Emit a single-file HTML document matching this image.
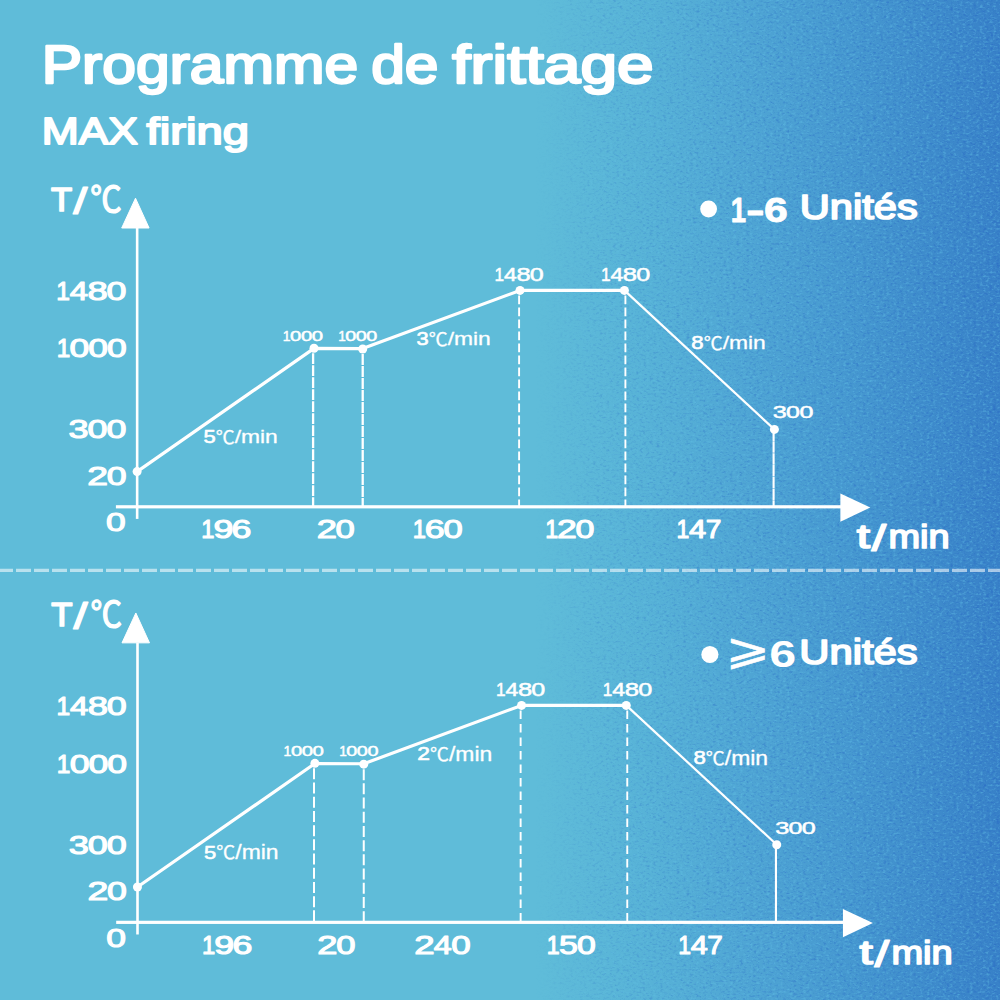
<!DOCTYPE html>
<html lang="fr">
<head>
<meta charset="utf-8">
<title>Programme de frittage – MAX firing</title>
<style>
html,body{margin:0;padding:0;background:#5fbcd9;}
body{width:1000px;height:1000px;overflow:hidden;}
svg{display:block;font-kerning:none;}
text{fill:#fff;font-kerning:none;}
</style>
</head>
<body>
<svg width="1000" height="1000" viewBox="0 0 1000 1000">
<defs>
<linearGradient id="bg" x1="0" y1="0" x2="1" y2="0">
<stop offset="0" stop-color="#5fbcd9"/>
<stop offset="0.545" stop-color="#5fbcd9"/>
<stop offset="0.65" stop-color="#57b2d7"/>
<stop offset="0.75" stop-color="#4fa5d4"/>
<stop offset="0.85" stop-color="#4698d0"/>
<stop offset="1" stop-color="#3881c8"/>
</linearGradient>
<linearGradient id="nm" x1="0" y1="0" x2="1" y2="0">
<stop offset="0.535" stop-color="#fff" stop-opacity="0"/>
<stop offset="0.60" stop-color="#fff" stop-opacity="0.55"/>
<stop offset="0.75" stop-color="#fff" stop-opacity="0.85"/>
<stop offset="1" stop-color="#fff" stop-opacity="1"/>
</linearGradient>
<mask id="nmask" maskUnits="userSpaceOnUse" x="0" y="0" width="1000" height="1000"><rect width="1000" height="1000" fill="url(#nm)"/></mask>
<filter id="grain" x="0" y="0" width="100%" height="100%" color-interpolation-filters="sRGB">
<feTurbulence type="fractalNoise" baseFrequency="0.30 0.46" numOctaves="2" seed="7" result="t"/>
<feColorMatrix in="t" type="matrix" values="0 0 0 0 0.13  0 0 0 0 0.36  0 0 0 0 0.76  3.0 0 0 0 -1.5" result="dark"/>
<feColorMatrix in="t" type="matrix" values="0 0 0 0 0.42  0 0 0 0 0.80  0 0 0 0 0.93  0 -3.0 0 0 1.5" result="light"/>
<feMerge><feMergeNode in="dark"/><feMergeNode in="light"/></feMerge>
</filter>
</defs>
<rect width="1000" height="1000" fill="url(#bg)"/>
<g mask="url(#nmask)"><rect x="520" y="0" width="480" height="1000" filter="url(#grain)" opacity="0.38"/></g>
<path d="M-2 570.4 H1002" stroke="#fff" stroke-opacity="0.56" stroke-width="3.2" stroke-dasharray="15 3" fill="none"/>
<g fill="#fff">
<rect x="135.85" y="228.00" width="2.6" height="290.90"/>
<path d="M135.50 198.20 L121.70 228.00 L149.10 228.00 Z" stroke="#fff" stroke-width="1" stroke-linejoin="round"/>
<rect x="115.90" y="505.20" width="726.10" height="3.2"/>
<path d="M840.40 493.60 L870.30 507.50 L840.40 521.70 Z"/>
<path d="M137.10 471.60 L314.00 348.40 L362.70 348.60 L520.00 290.40 L624.40 290.40" fill="none" stroke="#fff" stroke-width="3.2" stroke-linejoin="round"/>
<path d="M624.40 290.40 L774.40 429.40" fill="none" stroke="#fff" stroke-width="2.2"/>
<path d="M313.10 353.20 V506.80" fill="none" stroke="#fff" stroke-width="2.3" stroke-dasharray="10.9 1.1"/>
<path d="M362.70 354.00 V506.80" fill="none" stroke="#fff" stroke-width="2.3" stroke-dasharray="10.9 1.1"/>
<path d="M519.10 295.40 V506.80" fill="none" stroke="#fff" stroke-width="1.9" stroke-dasharray="8.8 3.2"/>
<path d="M625.40 295.40 V506.80" fill="none" stroke="#fff" stroke-width="1.9" stroke-dasharray="8.8 3.2"/>
<path d="M773.60 429.40 V506.80" fill="none" stroke="#fff" stroke-width="2.1" stroke-dasharray="11.5 0.4"/>
<circle cx="137.10" cy="471.60" r="4.5"/>
<circle cx="314.00" cy="348.20" r="4.5"/>
<circle cx="362.70" cy="349.00" r="4.5"/>
<circle cx="520.00" cy="290.40" r="4.5"/>
<circle cx="624.40" cy="290.40" r="4.5"/>
<circle cx="774.40" cy="429.40" r="4.5"/>
<rect x="136.20" y="642.85" width="2.6" height="291.63"/>
<path d="M135.85 612.97 L122.00 642.85 L149.49 642.85 Z" stroke="#fff" stroke-width="1" stroke-linejoin="round"/>
<rect x="116.18" y="920.74" width="728.35" height="3.2"/>
<path d="M842.93 909.11 L872.92 923.04 L842.93 937.28 Z"/>
<path d="M137.45 887.05 L314.90 763.55 L363.75 763.75 L521.54 705.40 L626.26 705.40" fill="none" stroke="#fff" stroke-width="3.2" stroke-linejoin="round"/>
<path d="M626.26 705.40 L776.73 844.75" fill="none" stroke="#fff" stroke-width="2.2"/>
<path d="M314.00 768.35 V922.34" fill="none" stroke="#fff" stroke-width="2.0" stroke-dasharray="11 3.2"/>
<path d="M363.75 769.15 V922.34" fill="none" stroke="#fff" stroke-width="2.0" stroke-dasharray="11 3.2"/>
<path d="M520.64 710.40 V922.34" fill="none" stroke="#fff" stroke-width="1.9" stroke-dasharray="8.5 5"/>
<path d="M627.26 710.40 V922.34" fill="none" stroke="#fff" stroke-width="1.9" stroke-dasharray="8.5 5"/>
<path d="M775.93 844.75 V922.34" fill="none" stroke="#fff" stroke-width="2.1"/>
<circle cx="137.45" cy="887.05" r="4.5"/>
<circle cx="314.90" cy="763.35" r="4.5"/>
<circle cx="363.75" cy="764.15" r="4.5"/>
<circle cx="521.54" cy="705.40" r="4.5"/>
<circle cx="626.26" cy="705.40" r="4.5"/>
<circle cx="776.73" cy="844.75" r="4.5"/>
<circle cx="708.6" cy="209" r="8.4"/>
<circle cx="709.9" cy="654.5" r="8.6"/>
</g>
<g>
<text x="41.73" y="82.70" font-size="53.05" font-weight="normal" style="font-family:'Liberation Sans', sans-serif" textLength="316.36" lengthAdjust="spacingAndGlyphs" stroke="#fff" stroke-width="2.4" stroke-linejoin="round">Programme</text>
<text x="371.16" y="82.70" font-size="53.05" font-weight="normal" style="font-family:'Liberation Sans', sans-serif" textLength="67.33" lengthAdjust="spacingAndGlyphs" stroke="#fff" stroke-width="2.4" stroke-linejoin="round">de</text>
<text x="452.27" y="82.70" font-size="53.05" font-weight="normal" style="font-family:'Liberation Sans', sans-serif" textLength="201.46" lengthAdjust="spacingAndGlyphs" stroke="#fff" stroke-width="2.4" stroke-linejoin="round">frittage</text>
<text x="41.71" y="143.71" font-size="37.21" font-weight="normal" style="font-family:'Liberation Sans', sans-serif" textLength="96.17" lengthAdjust="spacingAndGlyphs" stroke="#fff" stroke-width="1.9" stroke-linejoin="round">MAX</text>
<text x="146.58" y="143.71" font-size="37.21" font-weight="normal" style="font-family:'Liberation Sans', sans-serif" textLength="102.31" lengthAdjust="spacingAndGlyphs" stroke="#fff" stroke-width="1.9" stroke-linejoin="round">firing</text>
<text x="51.12" y="211.00" font-size="33.87" font-weight="normal" style="font-family:'Liberation Sans', sans-serif" textLength="21.12" lengthAdjust="spacingAndGlyphs" stroke="#fff" stroke-width="1.7" stroke-linejoin="round">T</text>
<text x="73.30" y="214.00" font-size="37.06" font-weight="normal" style="font-family:'Liberation Sans', sans-serif" textLength="14.10" lengthAdjust="spacingAndGlyphs" stroke="#fff" stroke-width="1.2" stroke-linejoin="round">/</text>
<text x="90.17" y="211.85" font-size="35.18" font-weight="normal" style="font-family:'Liberation Sans', 'Noto Sans CJK SC', sans-serif" textLength="31.39" lengthAdjust="spacingAndGlyphs" stroke="#fff" stroke-width="1.3" stroke-linejoin="round">℃</text>
<text y="300.45" font-size="26.13" font-weight="normal" style="font-family:'Liberation Sans', sans-serif" stroke="#fff" stroke-width="1.1" stroke-linejoin="round"><tspan x="56.28" textLength="13.65" lengthAdjust="spacingAndGlyphs">1</tspan><tspan x="69.85" textLength="18.27" lengthAdjust="spacingAndGlyphs">4</tspan><tspan x="87.46" textLength="20.23" lengthAdjust="spacingAndGlyphs">8</tspan><tspan x="106.59" textLength="19.86" lengthAdjust="spacingAndGlyphs">0</tspan></text>
<text y="357.45" font-size="26.13" font-weight="normal" style="font-family:'Liberation Sans', sans-serif" stroke="#fff" stroke-width="1.1" stroke-linejoin="round"><tspan x="56.69" textLength="13.55" lengthAdjust="spacingAndGlyphs">1</tspan><tspan x="69.53" textLength="19.70" lengthAdjust="spacingAndGlyphs">0</tspan><tspan x="88.33" textLength="19.70" lengthAdjust="spacingAndGlyphs">0</tspan><tspan x="107.13" textLength="19.70" lengthAdjust="spacingAndGlyphs">0</tspan></text>
<text y="437.85" font-size="26.13" font-weight="normal" style="font-family:'Liberation Sans', sans-serif" stroke="#fff" stroke-width="1.1" stroke-linejoin="round"><tspan x="68.58" textLength="20.07" lengthAdjust="spacingAndGlyphs">3</tspan><tspan x="87.55" textLength="19.91" lengthAdjust="spacingAndGlyphs">0</tspan><tspan x="106.54" textLength="19.91" lengthAdjust="spacingAndGlyphs">0</tspan></text>
<text y="484.85" font-size="26.13" font-weight="normal" style="font-family:'Liberation Sans', sans-serif" stroke="#fff" stroke-width="1.1" stroke-linejoin="round"><tspan x="87.27" textLength="20.77" lengthAdjust="spacingAndGlyphs">2</tspan><tspan x="106.65" textLength="19.79" lengthAdjust="spacingAndGlyphs">0</tspan></text>
<text y="531.05" font-size="26.13" font-weight="normal" style="font-family:'Liberation Sans', sans-serif" stroke="#fff" stroke-width="1.1" stroke-linejoin="round"><tspan x="106.07" textLength="19.66" lengthAdjust="spacingAndGlyphs">0</tspan></text>
<text y="538.45" font-size="26.13" font-weight="normal" style="font-family:'Liberation Sans', sans-serif" stroke="#fff" stroke-width="1.1" stroke-linejoin="round"><tspan x="201.24" textLength="13.21" lengthAdjust="spacingAndGlyphs">1</tspan><tspan x="213.43" textLength="19.88" lengthAdjust="spacingAndGlyphs">9</tspan><tspan x="231.62" textLength="19.90" lengthAdjust="spacingAndGlyphs">6</tspan></text>
<text y="538.45" font-size="26.13" font-weight="normal" style="font-family:'Liberation Sans', sans-serif" stroke="#fff" stroke-width="1.1" stroke-linejoin="round"><tspan x="316.72" textLength="20.19" lengthAdjust="spacingAndGlyphs">2</tspan><tspan x="335.56" textLength="19.24" lengthAdjust="spacingAndGlyphs">0</tspan></text>
<text y="538.45" font-size="26.13" font-weight="normal" style="font-family:'Liberation Sans', sans-serif" stroke="#fff" stroke-width="1.1" stroke-linejoin="round"><tspan x="412.74" textLength="13.21" lengthAdjust="spacingAndGlyphs">1</tspan><tspan x="424.79" textLength="19.90" lengthAdjust="spacingAndGlyphs">6</tspan><tspan x="443.59" textLength="19.21" lengthAdjust="spacingAndGlyphs">0</tspan></text>
<text y="538.45" font-size="26.13" font-weight="normal" style="font-family:'Liberation Sans', sans-serif" stroke="#fff" stroke-width="1.1" stroke-linejoin="round"><tspan x="545.28" textLength="12.95" lengthAdjust="spacingAndGlyphs">1</tspan><tspan x="557.09" textLength="19.77" lengthAdjust="spacingAndGlyphs">2</tspan><tspan x="575.53" textLength="18.84" lengthAdjust="spacingAndGlyphs">0</tspan></text>
<text y="538.45" font-size="26.13" font-weight="normal" style="font-family:'Liberation Sans', sans-serif" stroke="#fff" stroke-width="1.1" stroke-linejoin="round"><tspan x="676.40" textLength="12.81" lengthAdjust="spacingAndGlyphs">1</tspan><tspan x="689.13" textLength="17.15" lengthAdjust="spacingAndGlyphs">4</tspan><tspan x="705.69" textLength="15.67" lengthAdjust="spacingAndGlyphs">7</tspan></text>
<text x="856.68" y="547.80" font-size="32.99" font-weight="normal" style="font-family:'Liberation Sans', sans-serif" textLength="13.22" lengthAdjust="spacingAndGlyphs" stroke="#fff" stroke-width="1.6" stroke-linejoin="round">t</text>
<text x="871.50" y="551.00" font-size="36.95" font-weight="normal" style="font-family:'Liberation Sans', sans-serif" textLength="14.75" lengthAdjust="spacingAndGlyphs" stroke="#fff" stroke-width="1.2" stroke-linejoin="round">/</text>
<text x="888.43" y="547.80" font-size="32.99" font-weight="normal" style="font-family:'Liberation Sans', sans-serif" textLength="61.13" lengthAdjust="spacingAndGlyphs" stroke="#fff" stroke-width="1.6" stroke-linejoin="round">min</text>
<text y="340.95" font-size="14.83" font-weight="normal" style="font-family:'Liberation Sans', sans-serif" stroke="#fff" stroke-width="0.5" stroke-linejoin="round"><tspan x="282.79" textLength="7.75" lengthAdjust="spacingAndGlyphs">1</tspan><tspan x="290.14" textLength="11.28" lengthAdjust="spacingAndGlyphs">0</tspan><tspan x="300.90" textLength="11.28" lengthAdjust="spacingAndGlyphs">0</tspan><tspan x="311.66" textLength="11.28" lengthAdjust="spacingAndGlyphs">0</tspan></text>
<text y="340.95" font-size="14.83" font-weight="normal" style="font-family:'Liberation Sans', sans-serif" stroke="#fff" stroke-width="0.5" stroke-linejoin="round"><tspan x="338.22" textLength="7.55" lengthAdjust="spacingAndGlyphs">1</tspan><tspan x="345.37" textLength="10.99" lengthAdjust="spacingAndGlyphs">0</tspan><tspan x="355.85" textLength="10.99" lengthAdjust="spacingAndGlyphs">0</tspan><tspan x="366.34" textLength="10.99" lengthAdjust="spacingAndGlyphs">0</tspan></text>
<text y="280.75" font-size="18.22" font-weight="normal" style="font-family:'Liberation Sans', sans-serif" stroke="#fff" stroke-width="0.5" stroke-linejoin="round"><tspan x="494.54" textLength="9.57" lengthAdjust="spacingAndGlyphs">1</tspan><tspan x="504.06" textLength="12.81" lengthAdjust="spacingAndGlyphs">4</tspan><tspan x="516.40" textLength="14.18" lengthAdjust="spacingAndGlyphs">8</tspan><tspan x="529.81" textLength="13.92" lengthAdjust="spacingAndGlyphs">0</tspan></text>
<text y="280.75" font-size="18.22" font-weight="normal" style="font-family:'Liberation Sans', sans-serif" stroke="#fff" stroke-width="0.5" stroke-linejoin="round"><tspan x="600.93" textLength="9.61" lengthAdjust="spacingAndGlyphs">1</tspan><tspan x="610.49" textLength="12.86" lengthAdjust="spacingAndGlyphs">4</tspan><tspan x="622.88" textLength="14.24" lengthAdjust="spacingAndGlyphs">8</tspan><tspan x="636.35" textLength="13.98" lengthAdjust="spacingAndGlyphs">0</tspan></text>
<text y="418.35" font-size="17.09" font-weight="normal" style="font-family:'Liberation Sans', sans-serif" stroke="#fff" stroke-width="0.5" stroke-linejoin="round"><tspan x="772.89" textLength="14.03" lengthAdjust="spacingAndGlyphs">3</tspan><tspan x="786.14" textLength="13.91" lengthAdjust="spacingAndGlyphs">0</tspan><tspan x="799.42" textLength="13.91" lengthAdjust="spacingAndGlyphs">0</tspan></text>
<text y="443.20" font-size="18.50" font-weight="normal" style="font-family:'Liberation Sans', sans-serif" stroke="#fff" stroke-width="0.6" stroke-linejoin="round"><tspan x="203.42" textLength="12.20" lengthAdjust="spacingAndGlyphs">5</tspan></text>
<text x="215.76" y="443.55" font-size="18.18" font-weight="normal" style="font-family:'Liberation Sans', 'Noto Sans CJK SC', sans-serif" textLength="18.88" lengthAdjust="spacingAndGlyphs" stroke="#fff" stroke-width="0.3" stroke-linejoin="round">℃</text>
<text x="234.65" y="443.35" font-size="19.23" font-weight="normal" style="font-family:'Liberation Sans', sans-serif" textLength="43.18" lengthAdjust="spacingAndGlyphs" stroke="#fff" stroke-width="0.3" stroke-linejoin="round">/min</text>
<text y="345.30" font-size="18.50" font-weight="normal" style="font-family:'Liberation Sans', sans-serif" stroke="#fff" stroke-width="0.6" stroke-linejoin="round"><tspan x="416.46" textLength="12.20" lengthAdjust="spacingAndGlyphs">3</tspan></text>
<text x="428.76" y="345.65" font-size="18.18" font-weight="normal" style="font-family:'Liberation Sans', 'Noto Sans CJK SC', sans-serif" textLength="18.88" lengthAdjust="spacingAndGlyphs" stroke="#fff" stroke-width="0.3" stroke-linejoin="round">℃</text>
<text x="447.65" y="345.45" font-size="19.23" font-weight="normal" style="font-family:'Liberation Sans', sans-serif" textLength="43.18" lengthAdjust="spacingAndGlyphs" stroke="#fff" stroke-width="0.3" stroke-linejoin="round">/min</text>
<text y="349.20" font-size="18.50" font-weight="normal" style="font-family:'Liberation Sans', sans-serif" stroke="#fff" stroke-width="0.6" stroke-linejoin="round"><tspan x="691.34" textLength="12.33" lengthAdjust="spacingAndGlyphs">8</tspan></text>
<text x="703.76" y="349.55" font-size="18.18" font-weight="normal" style="font-family:'Liberation Sans', 'Noto Sans CJK SC', sans-serif" textLength="18.88" lengthAdjust="spacingAndGlyphs" stroke="#fff" stroke-width="0.3" stroke-linejoin="round">℃</text>
<text x="722.65" y="349.35" font-size="19.23" font-weight="normal" style="font-family:'Liberation Sans', sans-serif" textLength="43.18" lengthAdjust="spacingAndGlyphs" stroke="#fff" stroke-width="0.3" stroke-linejoin="round">/min</text>
<text x="51.20" y="625.80" font-size="33.97" font-weight="normal" style="font-family:'Liberation Sans', sans-serif" textLength="21.19" lengthAdjust="spacingAndGlyphs" stroke="#fff" stroke-width="1.7" stroke-linejoin="round">T</text>
<text x="73.45" y="628.81" font-size="37.18" font-weight="normal" style="font-family:'Liberation Sans', sans-serif" textLength="14.15" lengthAdjust="spacingAndGlyphs" stroke="#fff" stroke-width="1.2" stroke-linejoin="round">/</text>
<text x="90.38" y="626.66" font-size="35.29" font-weight="normal" style="font-family:'Liberation Sans', 'Noto Sans CJK SC', sans-serif" textLength="31.50" lengthAdjust="spacingAndGlyphs" stroke="#fff" stroke-width="1.3" stroke-linejoin="round">℃</text>
<text y="715.48" font-size="26.21" font-weight="normal" style="font-family:'Liberation Sans', sans-serif" stroke="#fff" stroke-width="1.1" stroke-linejoin="round"><tspan x="56.38" textLength="13.69" lengthAdjust="spacingAndGlyphs">1</tspan><tspan x="70.00" textLength="18.33" lengthAdjust="spacingAndGlyphs">4</tspan><tspan x="87.66" textLength="20.29" lengthAdjust="spacingAndGlyphs">8</tspan><tspan x="106.85" textLength="19.92" lengthAdjust="spacingAndGlyphs">0</tspan></text>
<text y="772.62" font-size="26.21" font-weight="normal" style="font-family:'Liberation Sans', sans-serif" stroke="#fff" stroke-width="1.1" stroke-linejoin="round"><tspan x="56.79" textLength="13.59" lengthAdjust="spacingAndGlyphs">1</tspan><tspan x="69.67" textLength="19.77" lengthAdjust="spacingAndGlyphs">0</tspan><tspan x="88.53" textLength="19.77" lengthAdjust="spacingAndGlyphs">0</tspan><tspan x="107.39" textLength="19.77" lengthAdjust="spacingAndGlyphs">0</tspan></text>
<text y="853.82" font-size="26.21" font-weight="normal" style="font-family:'Liberation Sans', sans-serif" stroke="#fff" stroke-width="1.1" stroke-linejoin="round"><tspan x="68.71" textLength="20.14" lengthAdjust="spacingAndGlyphs">3</tspan><tspan x="87.74" textLength="19.97" lengthAdjust="spacingAndGlyphs">0</tspan><tspan x="106.80" textLength="19.97" lengthAdjust="spacingAndGlyphs">0</tspan></text>
<text y="900.34" font-size="26.21" font-weight="normal" style="font-family:'Liberation Sans', sans-serif" stroke="#fff" stroke-width="1.1" stroke-linejoin="round"><tspan x="87.47" textLength="20.84" lengthAdjust="spacingAndGlyphs">2</tspan><tspan x="106.90" textLength="19.86" lengthAdjust="spacingAndGlyphs">0</tspan></text>
<text y="946.65" font-size="26.21" font-weight="normal" style="font-family:'Liberation Sans', sans-serif" stroke="#fff" stroke-width="1.1" stroke-linejoin="round"><tspan x="106.32" textLength="19.73" lengthAdjust="spacingAndGlyphs">0</tspan></text>
<text y="954.07" font-size="26.21" font-weight="normal" style="font-family:'Liberation Sans', sans-serif" stroke="#fff" stroke-width="1.1" stroke-linejoin="round"><tspan x="202.09" textLength="13.22" lengthAdjust="spacingAndGlyphs">1</tspan><tspan x="214.29" textLength="19.90" lengthAdjust="spacingAndGlyphs">9</tspan><tspan x="232.50" textLength="19.92" lengthAdjust="spacingAndGlyphs">6</tspan></text>
<text y="954.07" font-size="26.21" font-weight="normal" style="font-family:'Liberation Sans', sans-serif" stroke="#fff" stroke-width="1.1" stroke-linejoin="round"><tspan x="317.33" textLength="20.20" lengthAdjust="spacingAndGlyphs">2</tspan><tspan x="336.17" textLength="19.25" lengthAdjust="spacingAndGlyphs">0</tspan></text>
<text y="954.07" font-size="26.21" font-weight="normal" style="font-family:'Liberation Sans', sans-serif" stroke="#fff" stroke-width="1.1" stroke-linejoin="round"><tspan x="414.21" textLength="20.42" lengthAdjust="spacingAndGlyphs">2</tspan><tspan x="433.89" textLength="17.91" lengthAdjust="spacingAndGlyphs">4</tspan><tspan x="451.33" textLength="19.46" lengthAdjust="spacingAndGlyphs">0</tspan></text>
<text y="954.07" font-size="26.21" font-weight="normal" style="font-family:'Liberation Sans', sans-serif" stroke="#fff" stroke-width="1.1" stroke-linejoin="round"><tspan x="546.80" textLength="12.91" lengthAdjust="spacingAndGlyphs">1</tspan><tspan x="558.99" textLength="18.94" lengthAdjust="spacingAndGlyphs">5</tspan><tspan x="576.95" textLength="18.78" lengthAdjust="spacingAndGlyphs">0</tspan></text>
<text y="954.07" font-size="26.21" font-weight="normal" style="font-family:'Liberation Sans', sans-serif" stroke="#fff" stroke-width="1.1" stroke-linejoin="round"><tspan x="678.24" textLength="12.70" lengthAdjust="spacingAndGlyphs">1</tspan><tspan x="690.86" textLength="16.99" lengthAdjust="spacingAndGlyphs">4</tspan><tspan x="707.28" textLength="15.54" lengthAdjust="spacingAndGlyphs">7</tspan></text>
<text x="859.56" y="964.05" font-size="33.09" font-weight="normal" style="font-family:'Liberation Sans', sans-serif" textLength="13.27" lengthAdjust="spacingAndGlyphs" stroke="#fff" stroke-width="1.6" stroke-linejoin="round">t</text>
<text x="874.43" y="967.26" font-size="37.06" font-weight="normal" style="font-family:'Liberation Sans', sans-serif" textLength="14.80" lengthAdjust="spacingAndGlyphs" stroke="#fff" stroke-width="1.2" stroke-linejoin="round">/</text>
<text x="891.41" y="964.05" font-size="33.09" font-weight="normal" style="font-family:'Liberation Sans', sans-serif" textLength="61.33" lengthAdjust="spacingAndGlyphs" stroke="#fff" stroke-width="1.6" stroke-linejoin="round">min</text>
<text y="756.08" font-size="14.87" font-weight="normal" style="font-family:'Liberation Sans', sans-serif" stroke="#fff" stroke-width="0.5" stroke-linejoin="round"><tspan x="283.59" textLength="7.78" lengthAdjust="spacingAndGlyphs">1</tspan><tspan x="290.96" textLength="11.32" lengthAdjust="spacingAndGlyphs">0</tspan><tspan x="301.76" textLength="11.32" lengthAdjust="spacingAndGlyphs">0</tspan><tspan x="312.55" textLength="11.32" lengthAdjust="spacingAndGlyphs">0</tspan></text>
<text y="756.08" font-size="14.87" font-weight="normal" style="font-family:'Liberation Sans', sans-serif" stroke="#fff" stroke-width="0.5" stroke-linejoin="round"><tspan x="339.19" textLength="7.58" lengthAdjust="spacingAndGlyphs">1</tspan><tspan x="346.37" textLength="11.02" lengthAdjust="spacingAndGlyphs">0</tspan><tspan x="356.88" textLength="11.02" lengthAdjust="spacingAndGlyphs">0</tspan><tspan x="367.40" textLength="11.02" lengthAdjust="spacingAndGlyphs">0</tspan></text>
<text y="695.73" font-size="18.27" font-weight="normal" style="font-family:'Liberation Sans', sans-serif" stroke="#fff" stroke-width="0.5" stroke-linejoin="round"><tspan x="496.00" textLength="9.60" lengthAdjust="spacingAndGlyphs">1</tspan><tspan x="505.54" textLength="12.85" lengthAdjust="spacingAndGlyphs">4</tspan><tspan x="517.92" textLength="14.22" lengthAdjust="spacingAndGlyphs">8</tspan><tspan x="531.38" textLength="13.96" lengthAdjust="spacingAndGlyphs">0</tspan></text>
<text y="695.73" font-size="18.27" font-weight="normal" style="font-family:'Liberation Sans', sans-serif" stroke="#fff" stroke-width="0.5" stroke-linejoin="round"><tspan x="602.72" textLength="9.64" lengthAdjust="spacingAndGlyphs">1</tspan><tspan x="612.31" textLength="12.90" lengthAdjust="spacingAndGlyphs">4</tspan><tspan x="624.74" textLength="14.29" lengthAdjust="spacingAndGlyphs">8</tspan><tspan x="638.25" textLength="14.02" lengthAdjust="spacingAndGlyphs">0</tspan></text>
<text y="833.67" font-size="17.14" font-weight="normal" style="font-family:'Liberation Sans', sans-serif" stroke="#fff" stroke-width="0.5" stroke-linejoin="round"><tspan x="775.21" textLength="14.07" lengthAdjust="spacingAndGlyphs">3</tspan><tspan x="788.51" textLength="13.95" lengthAdjust="spacingAndGlyphs">0</tspan><tspan x="801.82" textLength="13.95" lengthAdjust="spacingAndGlyphs">0</tspan></text>
<text y="858.58" font-size="18.56" font-weight="normal" style="font-family:'Liberation Sans', sans-serif" stroke="#fff" stroke-width="0.6" stroke-linejoin="round"><tspan x="203.98" textLength="12.24" lengthAdjust="spacingAndGlyphs">5</tspan></text>
<text x="216.36" y="858.93" font-size="18.24" font-weight="normal" style="font-family:'Liberation Sans', 'Noto Sans CJK SC', sans-serif" textLength="18.94" lengthAdjust="spacingAndGlyphs" stroke="#fff" stroke-width="0.3" stroke-linejoin="round">℃</text>
<text x="235.30" y="858.73" font-size="19.29" font-weight="normal" style="font-family:'Liberation Sans', sans-serif" textLength="43.32" lengthAdjust="spacingAndGlyphs" stroke="#fff" stroke-width="0.3" stroke-linejoin="round">/min</text>
<text y="760.44" font-size="18.56" font-weight="normal" style="font-family:'Liberation Sans', sans-serif" stroke="#fff" stroke-width="0.6" stroke-linejoin="round"><tspan x="417.37" textLength="12.74" lengthAdjust="spacingAndGlyphs">2</tspan></text>
<text x="430.02" y="760.79" font-size="18.24" font-weight="normal" style="font-family:'Liberation Sans', 'Noto Sans CJK SC', sans-serif" textLength="18.94" lengthAdjust="spacingAndGlyphs" stroke="#fff" stroke-width="0.3" stroke-linejoin="round">℃</text>
<text x="448.96" y="760.59" font-size="19.29" font-weight="normal" style="font-family:'Liberation Sans', sans-serif" textLength="43.32" lengthAdjust="spacingAndGlyphs" stroke="#fff" stroke-width="0.3" stroke-linejoin="round">/min</text>
<text y="764.35" font-size="18.56" font-weight="normal" style="font-family:'Liberation Sans', sans-serif" stroke="#fff" stroke-width="0.6" stroke-linejoin="round"><tspan x="693.40" textLength="12.37" lengthAdjust="spacingAndGlyphs">8</tspan></text>
<text x="705.87" y="764.70" font-size="18.24" font-weight="normal" style="font-family:'Liberation Sans', 'Noto Sans CJK SC', sans-serif" textLength="18.94" lengthAdjust="spacingAndGlyphs" stroke="#fff" stroke-width="0.3" stroke-linejoin="round">℃</text>
<text x="724.82" y="764.50" font-size="19.29" font-weight="normal" style="font-family:'Liberation Sans', sans-serif" textLength="43.32" lengthAdjust="spacingAndGlyphs" stroke="#fff" stroke-width="0.3" stroke-linejoin="round">/min</text>
<text y="221.50" font-size="35.03" font-weight="bold" style="font-family:'Liberation Sans', sans-serif" stroke="#fff" stroke-width="0.8" stroke-linejoin="round"><tspan x="730.67" textLength="15.30" lengthAdjust="spacingAndGlyphs">1</tspan><tspan x="746.06" textLength="18.68" lengthAdjust="spacingAndGlyphs">-</tspan><tspan x="763.99" textLength="23.75" lengthAdjust="spacingAndGlyphs">6</tspan></text>
<text x="799.84" y="218.55" font-size="34.45" font-weight="normal" style="font-family:'Liberation Sans', sans-serif" textLength="117.91" lengthAdjust="spacingAndGlyphs" stroke="#fff" stroke-width="1.7" stroke-linejoin="round">Unités</text>
<text x="725.38" y="664.20" font-size="43.20" font-weight="normal" style="font-family:'DejaVu Sans', sans-serif" textLength="44.44" lengthAdjust="spacingAndGlyphs" stroke="#fff" stroke-width="0.6" stroke-linejoin="round">⩾</text>
<text x="769.23" y="666.60" font-size="36.16" font-weight="bold" style="font-family:'Liberation Sans', sans-serif" textLength="26.92" lengthAdjust="spacingAndGlyphs">6</text>
<text x="799.33" y="663.55" font-size="34.45" font-weight="normal" style="font-family:'Liberation Sans', sans-serif" textLength="118.43" lengthAdjust="spacingAndGlyphs" stroke="#fff" stroke-width="1.7" stroke-linejoin="round">Unités</text>
</g>
</svg>
</body>
</html>
